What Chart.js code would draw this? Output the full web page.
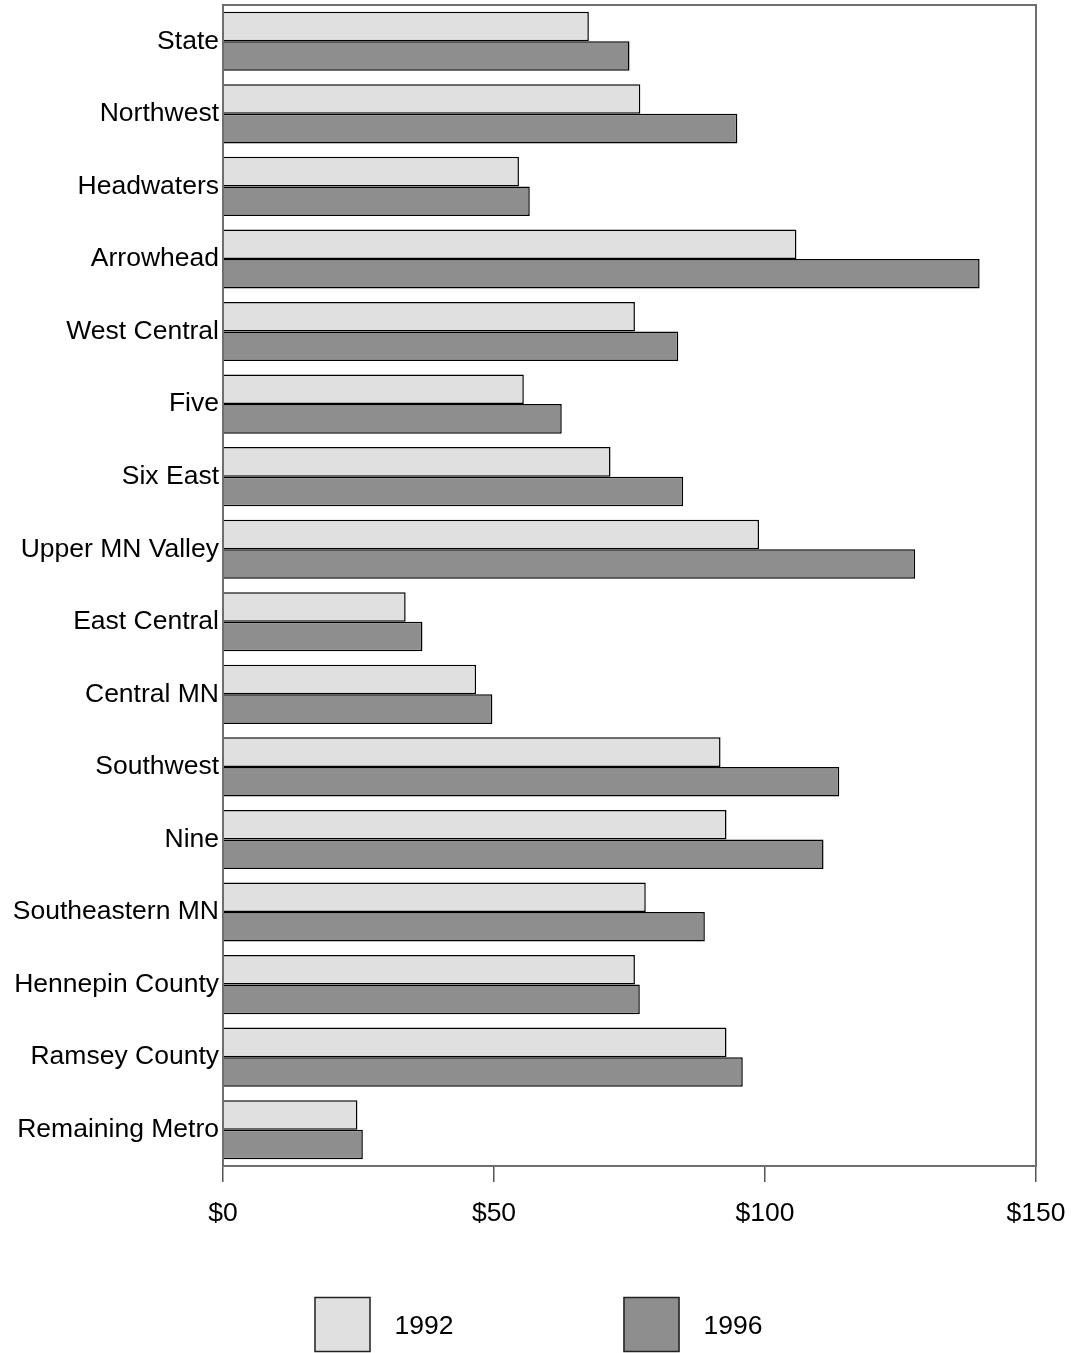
<!DOCTYPE html>
<html>
<head>
<meta charset="utf-8">
<script src="https://cdn.jsdelivr.net/npm/chart.js@4"></script>
<style>
  html, body { margin: 0; padding: 0; background: #fff; }
  #wrap { width: 1073px; height: 1353px; }
</style>
</head>
<body>
<div id="wrap"><canvas id="chart_regions"></canvas></div>
<script>
// data
var regions = ['State', 'Northwest', 'Headwaters', 'Arrowhead', 'West Central', 'Five', 'Six East',
  'Upper MN Valley', 'East Central', 'Central MN', 'Southwest', 'Nine', 'Southeastern MN',
  'Hennepin County', 'Ramsey County', 'Remaining Metro']
var values1992 = [67.5, 77.0, 54.6, 105.8, 76.0, 55.5, 71.5, 98.9, 33.7, 46.7, 91.8, 92.9, 78.0, 76.0, 92.9, 24.8]
var values1996 = [75.0, 94.9, 56.6, 139.6, 84.0, 62.5, 84.9, 127.7, 36.8, 49.7, 113.7, 110.8, 88.9, 76.9, 95.9, 25.8]
var xTicks = [0, 50, 100, 150]

var fontFamily = 'Arial, "Liberation Sans", sans-serif'
var fontSize = 26.5

// frame round the plot area + big square legend under the axis
var framePlugin = {
  id: 'frame',
  afterDraw: function (chart) {
    var c = chart.ctx, a = chart.chartArea
    c.save()
    c.strokeStyle = '#6e6e6e'
    c.lineWidth = 2
    c.strokeRect(a.left, a.top, a.right - a.left, a.bottom - a.top)

    // legend
    var mid = chart.width / 2
    var starts = [mid - 222, mid + 87]
    c.font = fontSize + 'px ' + fontFamily
    c.textBaseline = 'middle'
    c.textAlign = 'left'
    chart.data.datasets.forEach(function (ds, i) {
      var x = starts[i], y = 1297
      c.fillStyle = ds.backgroundColor
      c.fillRect(x, y, 56, 55)
      c.strokeStyle = '#222'
      c.lineWidth = 1.5
      c.strokeRect(x + 0.5, y + 0.5, 55, 54)
      c.fillStyle = '#000'
      c.fillText(ds.label, x + 80, y + 30)
    })
    c.restore()
  }
}

var ctx = document.getElementById('chart_regions')

var chart_regions = new Chart(ctx, {
  type: 'bar',
  data: {
    labels: regions,
    datasets: [{
      label: '1992',
      data: values1992,
      backgroundColor: '#e0e0e0',
      borderColor: '#000',
      borderWidth: 1.5,
      categoryPercentage: 0.815,
      barPercentage: 1.0
    }, {
      label: '1996',
      data: values1996,
      backgroundColor: '#8e8e8e',
      borderColor: '#000',
      borderWidth: 1.5,
      categoryPercentage: 0.815,
      barPercentage: 1.0
    }]
  },
  options: {
    indexAxis: 'y',
    responsive: true,
    maintainAspectRatio: false,
    animation: false,
    layout: { padding: { top: 5, right: 37, left: 0, bottom: 0 } },
    plugins: {
      legend: { display: false },
      tooltip: { enabled: false }
    },
    scales: {
      x: {
        min: 0,
        max: 150,
        afterBuildTicks: function (scale) {
          scale.ticks = xTicks.map(function (v) { return { value: v } })
        },
        afterFit: function (scale) {
          scale.height = 187
          scale.paddingLeft = 0
          scale.paddingRight = 0
        },
        border: { display: false },
        grid: {
          drawOnChartArea: false,
          drawTicks: true,
          tickLength: 16,
          color: '#555',
          lineWidth: 1.5
        },
        ticks: {
          color: '#000',
          padding: 16,
          maxRotation: 0,
          font: { family: fontFamily, size: fontSize },
          callback: function (v) { return '$' + v }
        }
      },
      y: {
        afterFit: function (scale) {
          scale.width = 223
          scale.paddingTop = 0
          scale.paddingBottom = 0
        },
        border: { display: false },
        grid: { display: false, drawTicks: false, tickLength: 0 },
        ticks: {
          color: '#000',
          padding: 4,
          autoSkip: false,
          font: { family: fontFamily, size: fontSize }
        }
      }
    }
  },
  plugins: [framePlugin]
})
</script>
</body>
</html>
